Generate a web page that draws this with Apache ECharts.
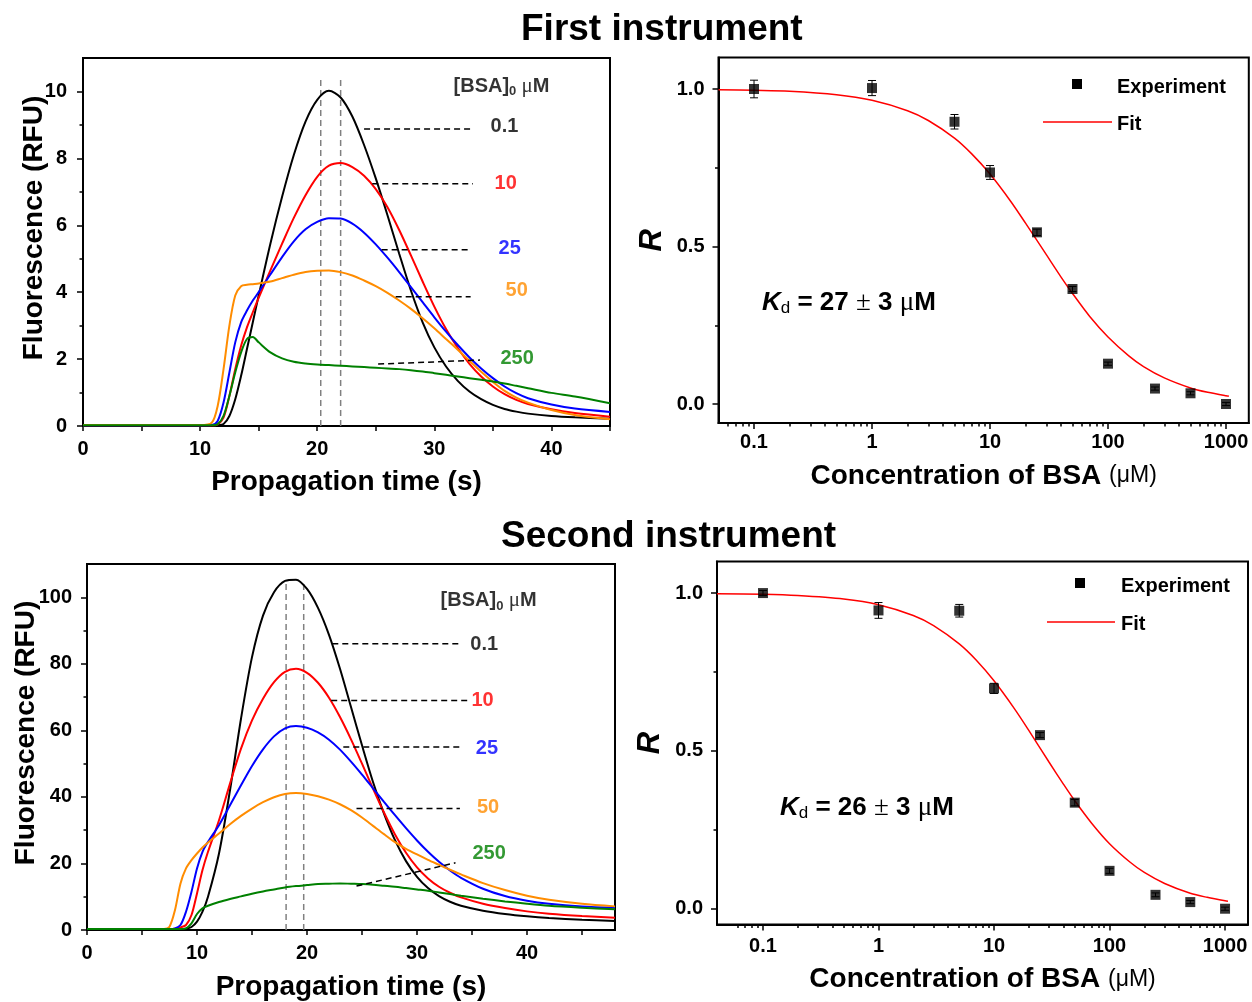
<!DOCTYPE html>
<html>
<head>
<meta charset="utf-8">
<title>BSA binding - two instruments</title>
<script src="https://cdn.jsdelivr.net/npm/echarts@6.0.0/dist/echarts.min.js"></script>
<style>
  html, body { margin: 0; background: #fff; }
  #chart { width: 1252px; height: 1002px; }
</style>
</head>
<body>
<div id="chart"></div>
<script>
// ---------- data: first instrument, propagation profiles ----------
var time1 = [0, 10, 11, 11.5, 12, 12.5, 13, 13.5, 14, 14.5, 15, 16, 17, 18, 19, 20, 21, 22, 23, 24, 25, 26, 27, 28, 29, 30, 31, 32, 33, 34, 35, 36, 37, 38, 40, 42, 45];
var black1 = [0.02, 0.02, 0.02, 0.03, 0.06, 0.3, 0.8, 1.5, 2.3, 3.1, 3.9, 5.45, 6.85, 8.1, 9.1, 9.75, 10.02, 9.82, 9.25, 8.4, 7.4, 6.3, 5.15, 4.05, 3.1, 2.35, 1.78, 1.35, 1.03, 0.8, 0.63, 0.51, 0.43, 0.37, 0.3, 0.26, 0.22];
var red1 = [0.02, 0.02, 0.02, 0.05, 0.25, 0.9, 1.7, 2.4, 2.95, 3.4, 3.83, 4.65, 5.45, 6.22, 6.9, 7.45, 7.78, 7.86, 7.74, 7.48, 7.08, 6.54, 5.86, 5.1, 4.32, 3.57, 2.9, 2.33, 1.86, 1.48, 1.18, 0.95, 0.78, 0.66, 0.5, 0.39, 0.28];
var blue1 = [0.02, 0.02, 0.03, 0.15, 0.7, 1.6, 2.5, 3.1, 3.45, 3.75, 4.0, 4.53, 5.05, 5.52, 5.88, 6.1, 6.21, 6.2, 6.05, 5.78, 5.43, 5.03, 4.6, 4.15, 3.7, 3.25, 2.82, 2.42, 2.05, 1.72, 1.43, 1.18, 0.98, 0.83, 0.64, 0.52, 0.42];
var orange1 = [0.03, 0.03, 0.1, 0.6, 1.7, 3.0, 3.9, 4.18, 4.22, 4.24, 4.26, 4.32, 4.42, 4.52, 4.6, 4.64, 4.65, 4.6, 4.5, 4.35, 4.18, 3.98, 3.75, 3.5, 3.22, 2.92, 2.6, 2.28, 1.95, 1.62, 1.32, 1.05, 0.85, 0.7, 0.48, 0.33, 0.2];
var green1 = [0.02, 0.02, 0.02, 0.05, 0.3, 0.9, 1.6, 2.2, 2.6, 2.66, 2.5, 2.2, 2.02, 1.92, 1.87, 1.84, 1.82, 1.8, 1.78, 1.76, 1.74, 1.72, 1.7, 1.67, 1.63, 1.58, 1.53, 1.48, 1.43, 1.38, 1.33, 1.27, 1.2, 1.13, 0.99, 0.88, 0.68];

// ---------- data: second instrument, propagation profiles ----------
var time2 = [0, 7, 7.5, 8, 8.5, 9, 9.5, 10, 10.5, 11, 12, 13, 14, 15, 16, 17, 18, 19, 20, 21, 22, 23, 24, 25, 26, 27, 28, 29, 30, 31, 32, 33, 34, 36, 38, 40, 42, 45, 48];
var black2 = [0.3, 0.3, 0.3, 0.3, 0.3, 0.4, 0.9, 2.5, 5.5, 10, 23, 42, 63.5, 82, 94.5, 101.5, 104.9, 105.3, 102.5, 96.8, 88.7, 78.5, 67, 55.5, 44.5, 35, 27, 20.7, 16, 12.6, 10.2, 8.5, 7.3, 5.8, 4.8, 4.1, 3.6, 3.1, 2.7];
var red2 = [0.3, 0.3, 0.3, 0.4, 0.8, 1.5, 4.5, 11, 18, 23.5, 33, 44, 54.5, 63, 69.5, 74.5, 77.6, 78.5, 77.3, 74.3, 69.8, 64, 57.3, 50, 42.5, 35.3, 28.7, 23.2, 18.8, 15.5, 13, 11.2, 9.8, 7.9, 6.6, 5.6, 4.9, 4.2, 3.7];
var blue2 = [0.3, 0.3, 0.3, 0.5, 1.5, 5.5, 11.5, 18.5, 23.5, 26.5, 31.5, 37.5, 43.5, 49.3, 54.3, 58.2, 60.6, 61.3, 60.8, 59.4, 57.2, 54.2, 50.6, 46.7, 42.6, 38.5, 34.5, 30.6, 26.9, 23.5, 20.5, 17.9, 15.7, 12.4, 10.2, 8.8, 7.9, 7.1, 6.7];
var orange2 = [0.3, 0.3, 1, 6, 14, 18.5, 21, 23, 24.8, 26.3, 29, 31.8, 34.3, 36.5, 38.4, 39.9, 40.9, 41.2, 40.9, 40.2, 39.2, 37.8, 36, 33.8, 31.3, 28.8, 26.4, 24.4, 22.7, 21.1, 19.6, 18.1, 16.7, 14.1, 12.0, 10.3, 9.1, 7.9, 7.1];
var green2 = [0.3, 0.3, 0.3, 0.3, 0.3, 0.5, 2, 4.8, 6.5, 7.3, 8.4, 9.3, 10.1, 10.9, 11.6, 12.2, 12.8, 13.2, 13.5, 13.8, 13.9, 14, 13.9, 13.8, 13.6, 13.3, 13, 12.6, 12.2, 11.8, 11.3, 10.8, 10.3, 9.4, 8.6, 7.9, 7.3, 6.7, 6.2];

// ---------- data: binding curves ----------
var conc = [0.1, 1, 5, 10, 25, 50, 100, 250, 500, 1000];
var ratio1 = [1.0, 1.003, 0.896, 0.735, 0.545, 0.365, 0.128, 0.049, 0.034, 0.0];
var err1 = [0.028, 0.024, 0.023, 0.022, 0.01, 0.008, 0.005, 0.005, 0.005, 0.005];
var ratio2 = [1.0, 0.945, 0.944, 0.698, 0.55, 0.336, 0.12, 0.044, 0.021, 0.0];
var err2 = [0.008, 0.025, 0.02, 0.016, 0.008, 0.01, 0.008, 0.006, 0.005, 0.005];
var fitConc1 = [0.05, 0.1, 0.2, 0.5, 1, 2, 3, 5, 7, 10, 15, 20, 30, 40, 50, 70, 100, 150, 200, 300, 500, 700, 1000, 1060];
var fit1 = [0.998, 0.996, 0.993, 0.982, 0.964, 0.931, 0.9, 0.844, 0.794, 0.73, 0.643, 0.574, 0.474, 0.403, 0.351, 0.278, 0.213, 0.153, 0.119, 0.083, 0.051, 0.037, 0.026, 0.025];
var fitConc2 = [0.04, 0.1, 0.2, 0.5, 1, 2, 3, 5, 7, 10, 15, 20, 30, 40, 50, 70, 100, 150, 200, 300, 500, 700, 1000, 1060];
var fit2 = [0.998, 0.996, 0.992, 0.981, 0.963, 0.929, 0.897, 0.839, 0.788, 0.722, 0.634, 0.565, 0.464, 0.394, 0.342, 0.271, 0.206, 0.148, 0.115, 0.080, 0.049, 0.036, 0.025, 0.024];

// ---------- annotations (in data units) ----------
var bsaLevels = ['0.1', '10', '25', '50', '250'];
var leaderStart1 = [[24.0, 8.88], [24.7, 7.24], [25.5, 5.27], [26.7, 3.86], [25.2, 1.85]];
var leaderEnd1 = [[33.1, 8.88], [33.3, 7.24], [33.1, 5.27], [33.1, 3.86], [33.9, 1.97]];
var labelAt1 = [[34.76, 8.94], [35.1, 7.26], [35.44, 5.32], [36.04, 4.04], [35.6, 2.03]];
var headerAt1 = [31.6, 10.16];
var peakLines1 = [20.3, 22.0];
var peakTop1 = 10.4;

var leaderStart2 = [[22.3, 86], [22.2, 69], [23.3, 55], [24.5, 36.5], [24.5, 13.2]];
var leaderEnd2 = [[34.1, 86], [34.7, 69], [33.9, 55], [33.9, 36.5], [33.5, 20.2]];
var labelAt2 = [[34.8, 85.7], [34.9, 69.1], [35.3, 54.7], [35.4, 36.7], [35.0, 23.1]];
var headerAt2 = [32.1, 98.9];
var peakLines2 = [18.1, 19.7];
var peakTop2 = 104.5;

// tick values
var timeTicks = [0, 5, 10, 15, 20, 25, 30, 35, 40, 45];
var timeLabels = [0, 10, 20, 30, 40];
var rfuTicks1 = [0, 2, 4, 6, 8, 10], rfuMinor1 = [1, 3, 5, 7, 9];
var rfuTicks2 = [0, 20, 40, 60, 80, 100], rfuMinor2 = [10, 30, 50, 70, 90];
var rTicks = [0, 0.5, 1.0], rMinor = [0.25, 0.75];
var concTicks = [0.1, 1, 10, 100, 1000];
var concMinor = [0.06, 0.07, 0.08, 0.09, 0.2, 0.3, 0.4, 0.5, 0.6, 0.7, 0.8, 0.9, 2, 3, 4, 5, 6, 7, 8, 9,
  20, 30, 40, 50, 60, 70, 80, 90, 200, 300, 400, 500, 600, 700, 800, 900];

var curveColors = ['#000000', '#ff0000', '#0000ff', '#ff8c00', '#008000'];
var F = '"Liberation Sans", Arial, sans-serif';
var SERIF = '"Liberation Serif", "Times New Roman", serif';

function pairs(xs, ys) {
  return xs.map(function (x, i) { return [x, ys[i]]; });
}

function axis(o) {
  return {
    type: o.type || 'value', gridIndex: o.grid, position: o.pos,
    min: o.min, max: o.max, logBase: 10,
    name: o.name || '', nameLocation: 'middle', nameGap: o.nameGap || 0,
    nameRotate: o.rotate || 0, nameMoveOverlap: false,
    nameTextStyle: o.nameStyle,
    axisLine: { show: !o.minor, onZero: false, lineStyle: { color: '#000', width: 2 } },
    axisTick: { show: true, inside: false, length: o.minor ? 3.5 : (o.tickLen || 6), customValues: o.ticks,
      lineStyle: { color: '#000', width: 1.5 } },
    axisLabel: { show: !o.minor, customValues: o.labels, margin: o.margin || 12,
      showMinLabel: true, showMaxLabel: true, formatter: o.fmt,
      color: '#000', fontFamily: F, fontWeight: 'bold', fontSize: 20 },
    splitLine: { show: false },
    minorTick: { show: false }
  };
}

var nameStyle = { fontFamily: F, fontWeight: 'bold', fontSize: 28, color: '#000' };
var yNameStyle = { fontFamily: F, fontWeight: 'bold', fontSize: 28, color: '#000', padding: [0, 0, 0, 28] };
var rNameStyle = { fontFamily: F, fontWeight: 'bold', fontStyle: 'italic', fontSize: 31, color: '#000' };
var concName = '{a|Concentration of BSA }{b|(μM)}';
var concNameStyle = { color: '#000', rich: {
  a: { fontFamily: F, fontWeight: 'bold', fontSize: 28, color: '#000' },
  b: { fontFamily: F, fontWeight: 'normal', fontSize: 23, color: '#000' } } };
var logFmt = function (v) { return String(v); };
var rFmt = function (v) { return v.toFixed(1); };

var xAxes = [
  axis({ grid: 0, pos: 'bottom', min: 0, max: 45, ticks: timeTicks, labels: timeLabels, tickLen: 5, margin: 13,
    name: 'Propagation time (s)', nameGap: 42, nameStyle: nameStyle }),
  axis({ grid: 1, pos: 'bottom', type: 'log', min: 0.05, max: 1560, ticks: concTicks, labels: concTicks, margin: 10,
    fmt: logFmt, name: concName, nameGap: 39, nameStyle: concNameStyle }),
  axis({ grid: 1, pos: 'bottom', type: 'log', min: 0.05, max: 1560, ticks: concMinor, minor: true }),
  axis({ grid: 2, pos: 'bottom', min: 0, max: 48, ticks: timeTicks, labels: timeLabels, tickLen: 5, margin: 13,
    name: 'Propagation time (s)', nameGap: 43, nameStyle: nameStyle }),
  axis({ grid: 3, pos: 'bottom', type: 'log', min: 0.04, max: 1580, ticks: concTicks, labels: concTicks, margin: 12,
    fmt: logFmt, name: concName, nameGap: 41, nameStyle: concNameStyle }),
  axis({ grid: 3, pos: 'bottom', type: 'log', min: 0.04, max: 1580, ticks: concMinor, minor: true })
];

var yAxes = [
  axis({ grid: 0, pos: 'left', min: 0, max: 11, ticks: rfuTicks1, labels: rfuTicks1, margin: 16,
    name: 'Fluorescence (RFU)', nameGap: 35, rotate: 90, nameStyle: yNameStyle }),
  axis({ grid: 0, pos: 'left', min: 0, max: 11, ticks: rfuMinor1, minor: true }),
  axis({ grid: 1, pos: 'left', min: -0.06, max: 1.1, ticks: rTicks, labels: rTicks, margin: 14, fmt: rFmt,
    name: 'R', nameGap: 51, rotate: 90, nameStyle: rNameStyle }),
  axis({ grid: 1, pos: 'left', min: -0.06, max: 1.1, ticks: rMinor, minor: true }),
  axis({ grid: 2, pos: 'left', min: 0, max: 110, ticks: rfuTicks2, labels: rfuTicks2, margin: 15,
    name: 'Fluorescence (RFU)', nameGap: 47, rotate: 90, nameStyle: yNameStyle }),
  axis({ grid: 2, pos: 'left', min: 0, max: 110, ticks: rfuMinor2, minor: true }),
  axis({ grid: 3, pos: 'left', min: -0.05, max: 1.1, ticks: rTicks, labels: rTicks, margin: 14, fmt: rFmt,
    name: 'R', nameGap: 51, rotate: 90, nameStyle: rNameStyle }),
  axis({ grid: 3, pos: 'left', min: -0.05, max: 1.1, ticks: rMinor, minor: true })
];

var series = [];

function addProfiles(xi, yi, time, curves, leaderStart, leaderEnd, labelAt, headerAt, peakLines, peakTop) {
  peakLines.forEach(function (x) {
    series.push({ type: 'line', xAxisIndex: xi, yAxisIndex: yi, data: [[x, 0], [x, peakTop]],
      symbol: 'none', silent: true, z: 1,
      lineStyle: { color: '#808080', width: 1.5, type: [6, 4] } });
  });
  curves.forEach(function (ys, i) {
    series.push({ type: 'line', name: bsaLevels[i], xAxisIndex: xi, yAxisIndex: yi, data: pairs(time, ys),
      symbol: 'none', smooth: 0.3, z: 2,
      lineStyle: { color: curveColors[i], width: 2 } });
  });
  leaderStart.forEach(function (p, i) {
    series.push({ type: 'line', xAxisIndex: xi, yAxisIndex: yi, data: [p, leaderEnd[i]],
      symbol: 'none', silent: true, z: 3,
      lineStyle: { color: '#000', width: 1.5, type: [6, 4] } });
  });
  var labelData = labelAt.map(function (p, i) {
    return { value: p, label: { formatter: bsaLevels[i], color: curveColors[i] } };
  });
  labelData.push({ value: headerAt, label: { formatter: '{b|[BSA]}{s|0}{u| μ}{b|M}' } });
  series.push({ type: 'scatter', xAxisIndex: xi, yAxisIndex: yi, data: labelData, symbolSize: 1, clip: false,
    itemStyle: { color: 'transparent' }, silent: true, z: 4,
    label: { show: true, position: 'right', distance: 0, fontFamily: F, fontWeight: 'bold', fontSize: 20, color: '#000',
      rich: {
        b: { fontFamily: F, fontWeight: 'bold', fontSize: 20, color: '#000', lineHeight: 24, verticalAlign: 'middle' },
        s: { fontFamily: F, fontWeight: 'bold', fontSize: 13, color: '#000', lineHeight: 8, verticalAlign: 'bottom' },
        u: { fontFamily: SERIF, fontWeight: 'normal', fontSize: 21, color: '#000', lineHeight: 24, verticalAlign: 'middle' }
      } } });
}

function addBinding(xi, yi, ratio, err, fitConc, fit) {
  series.push({ type: 'line', name: 'Fit', xAxisIndex: xi, yAxisIndex: yi, data: pairs(fitConc, fit),
    symbol: 'none', smooth: 0.3, z: 2, lineStyle: { color: '#ff0000', width: 1.5 } });
  series.push({ type: 'custom', xAxisIndex: xi, yAxisIndex: yi, z: 3,
    data: conc.map(function (c, i) { return [c, ratio[i] - err[i], ratio[i] + err[i]]; }),
    renderItem: function (params, api) {
      var lo = api.coord([api.value(0), api.value(1)]);
      var hi = api.coord([api.value(0), api.value(2)]);
      var w = 4, st = { stroke: '#000', lineWidth: 1 };
      return { type: 'group', children: [
        { type: 'line', shape: { x1: lo[0], y1: lo[1], x2: hi[0], y2: hi[1] }, style: st },
        { type: 'line', shape: { x1: lo[0] - w, y1: lo[1], x2: lo[0] + w, y2: lo[1] }, style: st },
        { type: 'line', shape: { x1: hi[0] - w, y1: hi[1], x2: hi[0] + w, y2: hi[1] }, style: st }
      ] };
    } });
  series.push({ type: 'scatter', name: 'Experiment', xAxisIndex: xi, yAxisIndex: yi, data: pairs(conc, ratio),
    symbol: 'rect', symbolSize: 10, z: 4, itemStyle: { color: '#000' } });
}

addProfiles(0, 0, time1, [black1, red1, blue1, orange1, green1],
  leaderStart1, leaderEnd1, labelAt1, headerAt1, peakLines1, peakTop1);
addBinding(1, 2, ratio1, err1, fitConc1, fit1);
addProfiles(3, 4, time2, [black2, red2, blue2, orange2, green2],
  leaderStart2, leaderEnd2, labelAt2, headerAt2, peakLines2, peakTop2);
addBinding(4, 6, ratio2, err2, fitConc2, fit2);

var kdRich = {
  k: { fontFamily: F, fontWeight: 'bold', fontStyle: 'italic', fontSize: 26, color: '#000', lineHeight: 28, verticalAlign: 'middle' },
  d: { fontFamily: F, fontWeight: 'normal', fontSize: 17, color: '#000', lineHeight: 10, verticalAlign: 'bottom' },
  t: { fontFamily: F, fontWeight: 'bold', fontSize: 26, color: '#000', lineHeight: 28, verticalAlign: 'middle' },
  s: { fontFamily: SERIF, fontWeight: 'normal', fontSize: 27, color: '#000', lineHeight: 28, verticalAlign: 'middle' }
};
var headStyle = { fontFamily: F, fontWeight: 'bold', fontSize: 37, color: '#000' };

function legendBits(sqX, sqY, txtX, lineX1, lineX2, lineY) {
  var font = 'bold 20px "Liberation Sans", Arial, sans-serif';
  return [
    { type: 'rect', shape: { x: sqX - 5, y: sqY - 5, width: 10, height: 10 }, style: { fill: '#000' } },
    { type: 'text', x: txtX, y: sqY + 3, style: { text: 'Experiment', font: font, fill: '#000', verticalAlign: 'middle' } },
    { type: 'line', shape: { x1: lineX1, y1: lineY, x2: lineX2, y2: lineY }, style: { stroke: '#ff0000', lineWidth: 1.5 } },
    { type: 'text', x: txtX, y: lineY + 2, style: { text: 'Fit', font: font, fill: '#000', verticalAlign: 'middle' } }
  ];
}

var option = {
  animation: false,
  backgroundColor: '#ffffff',
  title: [
    { text: 'First instrument', left: 521, top: 11, padding: 0, textStyle: headStyle },
    { text: 'Second instrument', left: 501, top: 518, padding: 0, textStyle: headStyle },
    { text: '{k|K}{d|d}{t| = 27 }{s|±}{t| 3 }{s|μ}{t|M}', left: 762, top: 289, padding: 0, textStyle: { rich: kdRich } },
    { text: '{k|K}{d|d}{t| = 26 }{s|±}{t| 3 }{s|μ}{t|M}', left: 780, top: 794, padding: 0, textStyle: { rich: kdRich } }
  ],
  grid: [
    { left: 83, top: 58, width: 527, height: 368 },
    { left: 718.5, top: 57.5, width: 530.3, height: 365.4 },
    { left: 87, top: 564, width: 528, height: 366 },
    { left: 717, top: 561.5, width: 531, height: 363 }
  ].map(function (g) {
    return Object.assign({ show: true, borderColor: '#000', borderWidth: 2, backgroundColor: 'transparent',
      containLabel: false, outerBoundsMode: 'none' }, g);
  }),
  xAxis: xAxes,
  yAxis: yAxes,
  series: series,
  graphic: legendBits(1077, 84, 1117, 1043, 1112, 122).concat(legendBits(1080, 583, 1121, 1047, 1115, 622))
};

var chart = echarts.init(document.getElementById('chart'), null, { renderer: 'canvas' });
chart.setOption(option);
</script>
</body>
</html>
